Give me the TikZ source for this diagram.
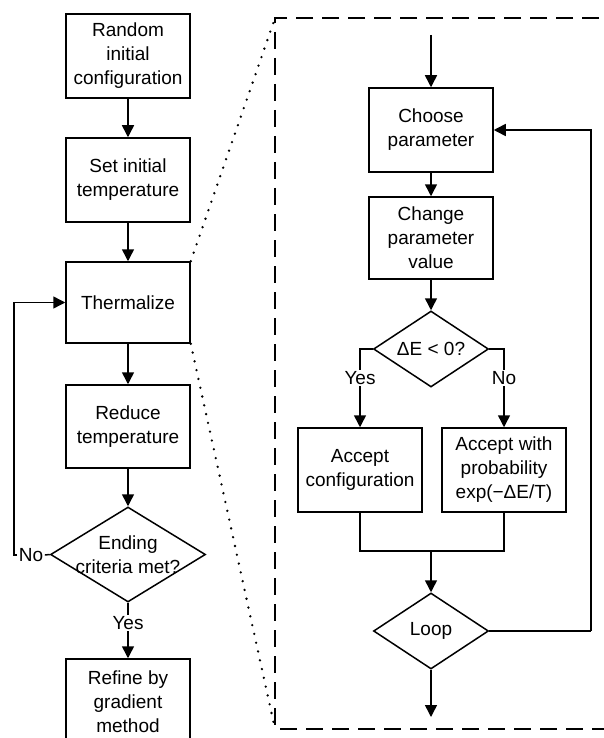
\documentclass[tikz,border=0pt]{standalone}
\usepackage{fontspec}
\setmainfont{Liberation Sans}
\usetikzlibrary{shapes.geometric,arrows.meta}
\begin{document}
\begin{tikzpicture}[x=1pt,y=-1pt,
  every node/.style={font=\fontsize{19}{24}\selectfont},
  box/.style={draw, line width=1.5pt, rectangle, align=center, inner sep=0pt, minimum width=124pt, minimum height=84pt},
  dia/.style={draw, line width=1.5pt, diamond, inner sep=0pt},
  dlbl/.style={align=center, inner sep=0pt},
  lbl/.style={inner sep=1.5pt},
  arr/.style={line width=1.5pt, -{Triangle[length=12pt,width=12pt]}},
  ln/.style={line width=1.5pt},
  dashedbox/.style={line width=1.9pt, dash pattern=on 17pt off 9pt},
  dots/.style={line width=2.6pt, line cap=round, dash pattern=on 0pt off 9pt}
  ]
\useasboundingbox (0,0) rectangle (603,738);
% left chain
\node[box] (rand) at (128,56) {Random\\initial\\configuration};
\node[box] (set) at (128,180) {Set initial\\temperature};
\node[box, minimum height=81pt] (therm) at (128,302.5) {Thermalize};
\node[box, minimum height=83pt] (red) at (128,426.5) {Reduce\\temperature};
\node[dia, minimum width=155pt, minimum height=95pt, label={[dlbl]center:Ending\\criteria met?}] (endc) at (128,554.5) {};
\node[lbl] (yes1) at (128,623) {Yes};
\node[box, minimum height=86pt] (ref) at (128,702) {Refine by\\gradient\\method};
\node[lbl] (no1) at (31,555) {No};
\coordinate (nl) at (14,555);
\draw[arr] (rand) -- (set);
\draw[arr] (set) -- (therm);
\draw[arr] (therm) -- (red);
\draw[arr] (red) -- (endc);
\draw[ln] (endc.south) -- (yes1.north);
\draw[arr] (yes1.south) -- (ref.north);
\draw[ln] (endc.west) -- (no1.east);
\draw[arr] (no1.west) -- (nl) |- (therm.west);
% zoom panel
\coordinate (dtl) at (275,18);
\coordinate (dbl) at (275,729);
\coordinate (dtr) at (625,18);
\coordinate (dbr) at (625,729);
\draw[dashedbox] (dtr) -- (dtl) -- (dbl) -- (dbr);
\draw[dots] (therm.north east) -- (dtl);
\draw[dots] (therm.south east) -- (dbl);
% right chain
\coordinate (in) at (431,35);
\node[box] (choose) at (431,130) {Choose\\parameter};
\node[box, minimum height=82pt] (change) at (431,238) {Change\\parameter\\value};
\node[dia, minimum width=115pt, minimum height=76pt, label={[dlbl]center:ΔE < 0?}] (de) at (431,349) {};
\node[lbl] (yes2) at (360,378) {Yes};
\node[lbl] (no2) at (504,378) {No};
\node[box] (acc) at (360,470) {Accept\\configuration};
\node[box] (accp) at (504,470) {Accept with\\probability\\exp(−ΔE/T)};
\coordinate (j) at (431,551);
\node[dia, minimum width=115pt, minimum height=76pt, label={[dlbl]center:Loop}] (loop) at (431,631) {};
\coordinate (rt) at (591,631);
\coordinate (out) at (431,717);
\draw[arr] (in) -- (choose);
\draw[arr] (choose) -- (change);
\draw[arr] (change) -- (de);
\draw[ln] (de.west) -| (yes2.north);
\draw[arr] (yes2) -- (acc);
\draw[ln] (de.east) -| (no2.north);
\draw[arr] (no2) -- (accp);
\draw[ln] (acc.south) |- (j) -| (accp.south);
\draw[arr] (j) -- (loop);
\draw[ln] (loop.east) -- (rt);
\draw[arr] (rt) |- (choose.east);
\draw[arr] (loop) -- (out);
\end{tikzpicture}
\end{document}
